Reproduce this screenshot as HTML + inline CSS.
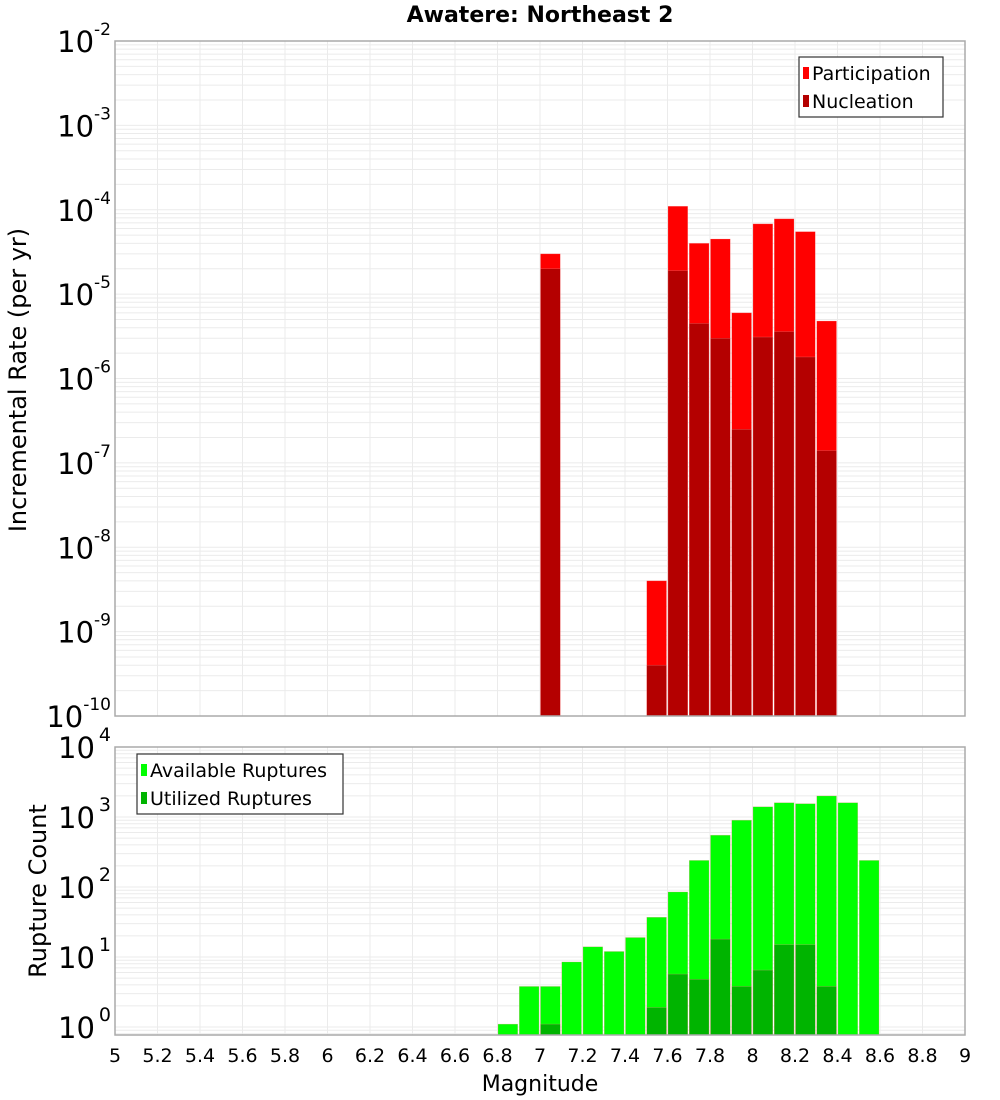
<!DOCTYPE html>
<html><head><meta charset="utf-8"><style>
body{margin:0;background:#fff;}
svg{display:block;font-family:"DejaVu Sans","Liberation Sans",sans-serif;}
</style></head><body>
<svg id="c" width="1000" height="1100" viewBox="0 0 1000 1100"></svg>
<script>
const bins = [6.8,6.9,7.0,7.1,7.2,7.3,7.4,7.5,7.6,7.7,7.8,7.9,8.0,8.1,8.2,8.3,8.4,8.5];
const participation = [null,null,3e-5,null,null,null,null,4e-9,1.1e-4,4e-5,4.5e-5,6e-6,6.8e-5,7.8e-5,5.5e-5,4.8e-6,null,null];
const nucleation = [null,null,2e-5,null,null,null,null,4e-10,1.9e-5,4.5e-6,3e-6,2.5e-7,3.1e-6,3.6e-6,1.8e-6,1.4e-7,null,null];
const available = [1.1,3.8,3.8,8.5,14,12,19,37,85,240,550,900,1400,1600,1550,2000,1600,240];
const utilized = [null,null,1.1,null,null,null,null,1.9,5.7,4.8,18,3.8,6.5,15,15,3.8,null,null];
const xTicks = ["5","5.2","5.4","5.6","5.8","6","6.2","6.4","6.6","6.8","7","7.2","7.4","7.6","7.8","8","8.2","8.4","8.6","8.8","9"];

const svg=document.getElementById('c');
const NS='http://www.w3.org/2000/svg';
function mk(tag,attrs,parent){const e=document.createElementNS(NS,tag);for(const k in attrs)e.setAttribute(k,attrs[k]);(parent||svg).appendChild(e);return e;}
const L=115,R=965;
const x=v=>L+(v-5)*(R-L)/4;
const T={top:41,bot:716,hi:-2,lo:-10};
const B={top:747,bot:1035,hi:4,lo:0};
const yT=v=>T.top+(T.hi-Math.log10(v))*(T.bot-T.top)/(T.hi-T.lo);
const decB=(1027-747)/4;
const yB=v=>747+(4-Math.log10(v))*decB;

function grid(top,bot,yf,loE,hiE,name){
  const g=mk('g',{});
  
  
  for(let i=0;i<=20;i++){const xx=x(5+i*0.2);mk('line',{x1:xx,x2:xx,y1:top,y2:bot,stroke:'#ebebeb','stroke-width':1},g);}
  for(let e=loE-1;e<hiE;e++)for(let m=1;m<10;m++){const yy=yf(m*Math.pow(10,e));if(yy<top||yy>bot)continue;mk('line',{x1:L,x2:R,y1:yy,y2:yy,stroke:'#ebebeb','stroke-width':1},g);}
}
grid(T.top,T.bot,yT,-10,-2,'top-grid');
grid(B.top,B.bot,yB,0,4,'bottom-grid');

function bars(vals,yf,bot,color,name){
  vals.forEach((v,i)=>{if(v==null)return;const x0=x(bins[i])+0.5,x1=x(bins[i]+0.1)-1;const yy=Math.max(yf(v),0);
    const r=mk('rect',{x:x0,y:yy,width:x1-x0,height:bot-yy,fill:color,stroke:'rgba(255,150,150,0.5)','stroke-width':0.5});
    
    });
}
bars(participation,yT,T.bot,'#ff0000','participation-bar');
bars(nucleation,yT,T.bot,'#b40000','nucleation-bar');
bars(available,yB,B.bot,'#00ff00','available-bar');
bars(utilized,yB,B.bot,'#00b400','utilized-bar');

const f1=mk('rect',{x:L,y:T.top,width:R-L,height:T.bot-T.top,fill:'none',stroke:'#aaa','stroke-width':1.5});

const f2=mk('rect',{x:L,y:B.top,width:R-L,height:B.bot-B.top,fill:'none',stroke:'#aaa','stroke-width':1.5});


function txt(s,attrs,name){const t=mk('text',attrs);t.textContent=s;return t;}
function powLabel(e,yy,name,sz,gap){const t=mk('text',{x:111,y:yy+11,'text-anchor':'end','font-size':29});
  
  const a=document.createElementNS(NS,'tspan');a.textContent='10';t.appendChild(a);
  const b=document.createElementNS(NS,'tspan');b.textContent=String(e);b.setAttribute('font-size',sz);b.setAttribute('dy',-17);if(gap)b.setAttribute('dx',gap);t.appendChild(b);}
for(let e=-2;e>=-10;e--)powLabel(e,yT(Math.pow(10,e)),'top-y-tick',17,0);
for(let e=0;e<=4;e++)powLabel(e,yB(Math.pow(10,e)),'bottom-y-tick',19,4);
xTicks.forEach(s=>{txt(s,{x:x(parseFloat(s)),y:1062,'text-anchor':'middle','font-size':19},'x-tick');});

txt('Awatere: Northeast 2',{x:540,y:22,'text-anchor':'middle','font-size':22,'font-weight':'bold'},'chart-title');
txt('Magnitude',{x:540,y:1091,'text-anchor':'middle','font-size':22},'x-axis-title');
txt('Incremental Rate (per yr)',{x:0,y:0,'text-anchor':'middle','font-size':24,transform:'translate(26,380) rotate(-90)'},'top-y-axis-title');
txt('Rupture Count',{x:0,y:0,'text-anchor':'middle','font-size':24,transform:'translate(46,891) rotate(-90)'},'bottom-y-axis-title');

function legend(x0,y0,w,h,items,name){const g=mk('g',{});
  mk('rect',{x:x0,y:y0,width:w,height:h,fill:'#fff',stroke:'#333','stroke-width':1.2},g);
  items.forEach((it,i)=>{const yy=y0+16+i*28;mk('rect',{x:x0+4,y:yy-6,width:6,height:12,fill:it[1]},g);
    const t=mk('text',{x:x0+13,y:yy+7,'font-size':19},g);t.textContent=it[0];});}
legend(799,57,144,60,[['Participation','#ff0000'],['Nucleation','#b40000']],'top-legend');
legend(137,754,206,60,[['Available Ruptures','#00ff00'],['Utilized Ruptures','#00b400']],'bottom-legend');
</script>
</body></html>
